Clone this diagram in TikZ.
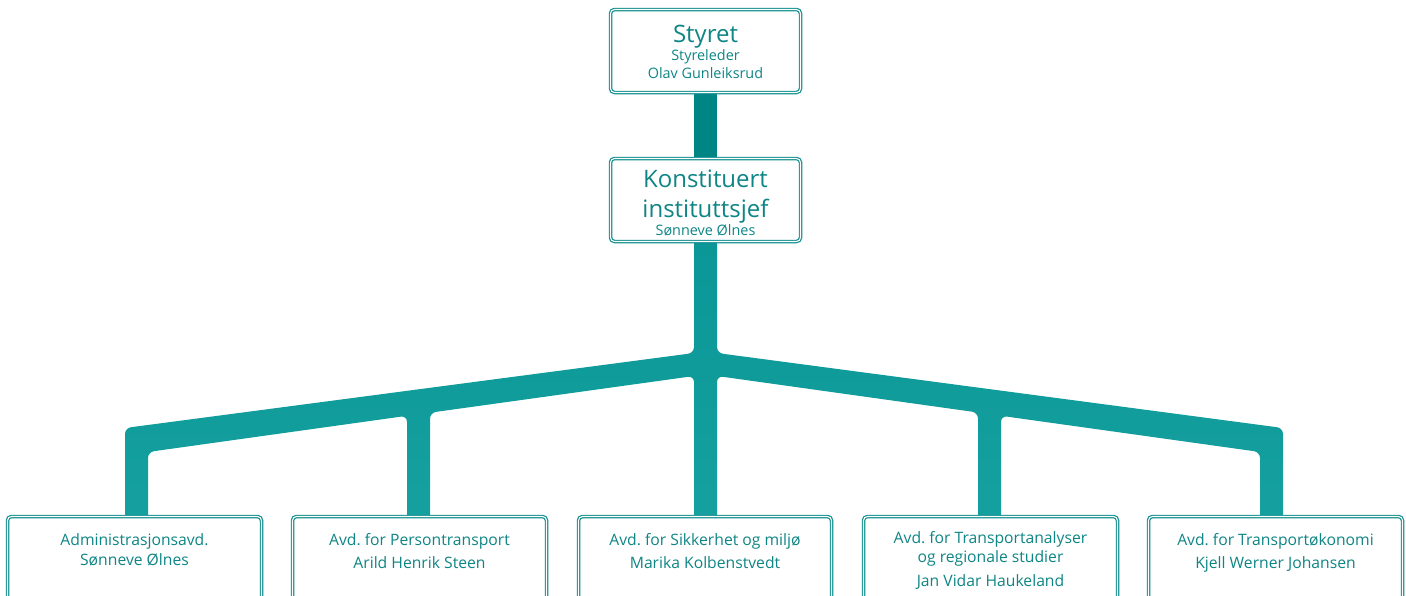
\documentclass[tikz,border=0pt]{standalone}
\usepackage{fontspec}
\setmainfont{Open Sans}
\frenchspacing
\definecolor{teal1}{HTML}{008585}
\definecolor{teal2}{HTML}{0B9797}
\definecolor{teal3}{HTML}{16A0A0}
\definecolor{txt}{HTML}{0F8585}
\definecolor{frame}{HTML}{128E8E}
\tikzset{
  orgbox/.style={draw=frame, line width=1.2pt, double=white, double distance=1.1pt, fill=white, rounded corners=4pt},
  big/.style={text=txt, font=\fontsize{24}{28}\selectfont, anchor=base, inner sep=0pt},
  small/.style={text=txt, font=\fontsize{14.4}{17}\selectfont, anchor=base, inner sep=0pt},
  dept/.style={text=txt, font=\fontsize{15.7}{19}\selectfont, anchor=base, inner sep=0pt},
}
\begin{document}
\begin{tikzpicture}[x=1pt,y=-1pt]
\useasboundingbox (0,0) rectangle (1406,595);
\clip (0,0) rectangle (1406,595);
% upper trunk
\fill[teal1] (694,90) rectangle (717,162);
% lower tree
\shade[top color=teal2, bottom color=teal3, rounded corners=6pt]
 (694,238) -- (717,238) -- (717,353) -- (1283,428) -- (1283,525) -- (1260,525)
 -- (1260,452) -- (1001,415.8) -- (1001,525) -- (978,525) -- (978,412.5)
 -- (717,376) -- (717,525) -- (694,525) -- (694,376) -- (430,412.7)
 -- (430,525) -- (407,525) -- (407,415.8) -- (148,452) -- (148,525)
 -- (125,525) -- (125,428) -- (694,353) -- cycle;
% boxes
\draw[orgbox] (610.5,9.5) rectangle (800.5,92.5);
\draw[orgbox] (610.5,158.5) rectangle (800.5,241.5);
\draw[orgbox] (7.5,516.5) rectangle (261.5,620);
\draw[orgbox] (292.5,516.5) rectangle (546.5,620);
\draw[orgbox] (578.5,516.5) rectangle (831.5,620);
\draw[orgbox] (863.5,516.5) rectangle (1117.5,620);
\draw[orgbox] (1148.5,516.5) rectangle (1402.5,620);
% texts
\node[big] (t1) at (705.5,42) {Styret};
\node[small] (t2) at (705.5,60) {Styreleder};
\node[small] (t3) at (705.5,78) {Olav Gunleiksrud};
\node[big] (k1) at (705.5,187) {Konstituert};
\node[big] (k2) at (705.5,217) {instituttsjef};
\node[small] (k3) at (705.5,235) {Sønneve Ølnes};
\node[dept] (a1) at (134.5,545) {Administrasjonsavd.};
\node[dept] (a2) at (134.5,565) {Sønneve Ølnes};
\node[dept] (b1) at (419.5,545) {Avd. for Persontransport};
\node[dept] (b2) at (419.5,568) {Arild Henrik Steen};
\node[dept] (c1) at (705,545) {Avd. for Sikkerhet og miljø};
\node[dept] (c2) at (705,568) {Marika Kolbenstvedt};
\node[dept] (d1) at (990.5,543) {Avd. for Transportanalyser};
\node[dept] (d2) at (990.5,562) {og regionale studier};
\node[dept] (d3) at (990.5,586) {Jan Vidar Haukeland};
\node[dept] (e1) at (1275.5,545) {Avd. for Transportøkonomi};
\node[dept] (e2) at (1275.5,568) {Kjell Werner Johansen};
\end{tikzpicture}
\end{document}
